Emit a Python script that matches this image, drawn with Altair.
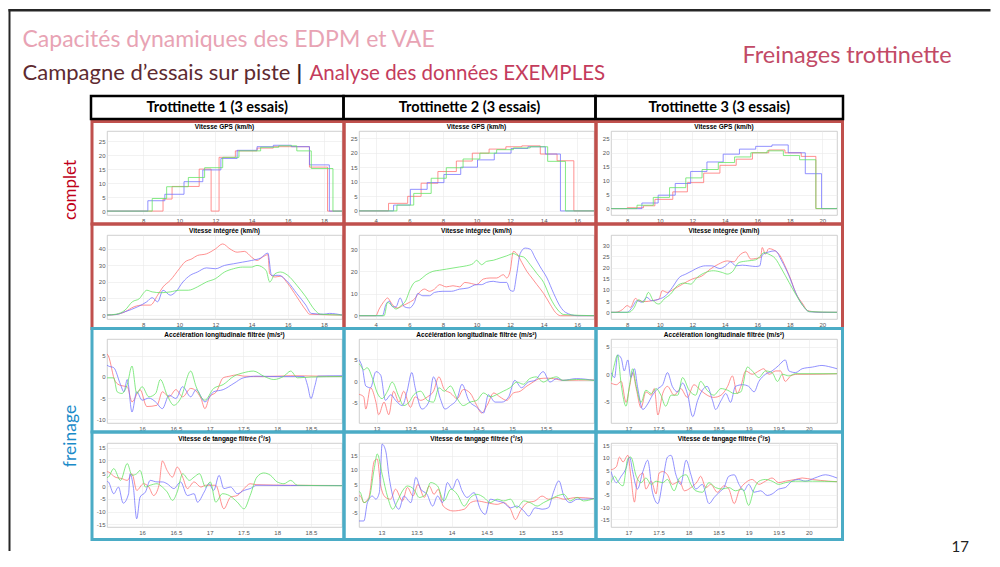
import altair as alt
import pandas as pd

# ------------------------------------------------------------------ data
ESSAIS = ["Essai 1", "Essai 2", "Essai 3"]
COULEURS = ["#ff6e6e", "#7070ff", "#5fe35f"]

# Trottinette 1
GPS1_R = [(6,0),(9.1,4.3),(9.6,8.8),(11.1,15.0),(11.76,0),(12.2,19.2),(13.1,21.5),(14.3,22.5),(15.2,23.0),(16.1,23.0),(17.2,15.7),(18.2,0),(19,0)]
GPS1_B = [(6,0),(8.26,3.7),(9.2,6.0),(10.26,10.5),(11.3,14.7),(12.3,18.8),(13.2,21.7),(14.3,23.0),(15.2,23.5),(16.2,23.0),(17.2,16.5),(18.3,0),(19,0)]
GPS1_G = [(6,0),(8.5,4.5),(9.3,8.7),(10.5,12.0),(11.4,15.5),(12.4,19.2),(13.3,21.5),(14.5,22.8),(15.5,23.3),(16.5,21.5),(17.3,15.2),(18.5,0),(19,0)]

INT1_R = [(6,0),(6.5,0.3),(7,2),(7.5,5),(8.0,6),(8.4,6),(8.8,12),(9.1,17),(9.5,21),(10,28),(10.3,32),(10.7,34),(11,36),(11.5,37),(12,40),(12.4,43),(12.8,40),(13.2,38),(13.6,38.5),(14,35),(14.3,33),(14.6,35),(14.9,36.5),(15.0,25),(15.3,23),(15.6,23.5),(16,19),(16.5,11),(17,3),(17.2,0.5),(19,0)]
INT1_B = [(6,0),(6.5,0.3),(7,2),(7.7,5),(8.2,8),(8.5,10.5),(8.8,8),(9.1,15),(9.5,12),(9.8,14),(10.2,20),(10.6,24),(11,26),(11.5,28.5),(12,28),(12.5,30),(13,31),(13.5,32),(14,33),(14.5,34.5),(14.9,37.5),(15.1,24),(15.5,24),(16,20),(16.5,13),(17,6),(17.3,1),(18,0.5),(18.3,1),(19,0)]
INT1_G = [(6,0),(6.5,0.5),(7,3),(7.4,8),(7.8,10),(8.0,13),(8.2,15),(8.5,14),(9,13.5),(9.5,14),(10,15),(10.5,15),(11,17),(11.5,20),(12,22),(12.5,26),(13,28),(13.5,29),(14,29),(14.3,30),(14.8,27),(15.0,20),(15.3,25),(15.6,26),(16,24),(16.5,18),(17,11),(17.5,3),(17.8,0.5),(19,0)]

ACC1_R = [(15.48,5.5),(15.5,5),(15.6,-1),(15.68,-2),(15.78,-2.3),(15.85,-5.9),(15.97,-3),(16.07,-7),(16.22,-6.7),(16.3,-3.5),(16.4,-4.7),(16.5,-3),(16.6,-4.7),(16.72,-2.7),(16.87,-5),(16.93,-7.5),(17.0,-4.7),(17.1,-3.5),(17.2,-0.2),(17.3,0.2),(17.4,0.5),(17.5,0.2),(17.8,0.1),(18.2,0.3),(18.6,0.2),(18.96,0.1)]
ACC1_B = [(15.48,2.8),(15.5,2.6),(15.58,2.2),(15.68,-1.8),(15.73,-3.5),(15.78,-0.6),(15.85,-8.3),(15.92,-3.5),(16.0,-5.5),(16.1,-5),(16.2,-5.9),(16.3,-7.5),(16.4,-4.3),(16.5,-5.1),(16.6,-2.3),(16.72,-4.7),(16.8,-3),(16.93,-5.9),(17.06,-3.5),(17.2,-3),(17.36,-1.5),(17.5,-0.2),(17.7,0.2),(18.0,0.1),(18.4,0.1),(18.45,-2),(18.5,-5.1),(18.56,-2),(18.6,0.2),(18.96,0.3)]
ACC1_G = [(15.48,-0.2),(15.58,-0.2),(15.63,-3.5),(15.7,-3.9),(15.78,-1.8),(15.85,2.6),(15.92,-3.9),(16.0,-2.3),(16.1,-4.7),(16.2,-3.9),(16.27,-0.6),(16.37,-4.3),(16.47,-6.7),(16.57,-5.1),(16.72,1.4),(16.8,-2.3),(16.93,-5.5),(17.06,-2.7),(17.2,-1.8),(17.36,0.2),(17.5,1.0),(17.65,1.4),(17.8,0.2),(17.95,-0.6),(18.1,0.2),(18.2,1.4),(18.3,-0.2),(18.5,0),(18.96,0.1)]

PIT1_R = [(15.48,5.6),(15.5,5.5),(15.6,3.5),(15.7,2.9),(15.78,2.2),(15.85,4.8),(15.92,-1.7),(16.02,0.9),(16.1,-0.4),(16.17,-3.7),(16.25,0.3),(16.3,9.8),(16.37,6.1),(16.45,3.5),(16.52,7.4),(16.6,3.5),(16.67,-1.0),(16.77,1.6),(16.87,-0.4),(16.94,0.3),(17.09,0.3),(17.21,-8.9),(17.31,-4.3),(17.41,-3.7),(17.51,-1.0),(17.6,0.9),(17.7,0.5),(18.2,0.3),(18.96,0.2)]
PIT1_B = [(15.48,1.8),(15.5,1.6),(15.58,-3),(15.65,-0.4),(15.72,-6.7),(15.8,-3),(15.82,4.8),(15.87,-0.4),(15.92,-12.8),(15.97,-4.3),(16.05,-2.3),(16.12,2.2),(16.22,1.6),(16.3,1.6),(16.37,0.9),(16.47,-1.0),(16.57,1.6),(16.67,-3.7),(16.77,-3.0),(16.82,-6.3),(16.92,-2.3),(16.99,0.9),(17.06,-1.7),(17.14,4.2),(17.21,-1.0),(17.31,-0.4),(17.41,-3.0),(17.51,-1.7),(17.6,-1.0),(17.7,0.3),(18.2,0.2),(18.96,0.2)]
PIT1_G = [(15.48,3.3),(15.5,3.5),(15.58,6.8),(15.68,2.2),(15.78,8.8),(15.85,4.2),(15.92,4.8),(15.97,6.1),(16.05,-0.4),(16.12,0.3),(16.22,0.9),(16.3,-0.4),(16.37,-2.3),(16.45,-5.6),(16.52,-2.3),(16.6,4.8),(16.7,2.2),(16.77,3.5),(16.85,4.8),(16.94,-0.4),(17.01,1.6),(17.09,-6.3),(17.19,-3.0),(17.29,-3.7),(17.41,-6.3),(17.51,-8.9),(17.6,-3.7),(17.7,3.5),(17.8,5.1),(17.9,4.2),(18.0,1.6),(18.1,0.9),(18.2,2.2),(18.3,0.3),(18.96,0.1)]

# Trottinette 2
GPS2_R = [(3,0),(4.76,2.6),(5.9,5.0),(6.7,9.5),(7.7,13.5),(8.8,17.1),(9.75,19.8),(10.75,21.2),(11.75,22.0),(12.7,22.3),(13.8,19.5),(14.8,17.2),(15.8,0),(17,0)]
GPS2_B = [(3,0),(5.06,2.0),(6.06,7.4),(7.06,9.7),(8.06,12.5),(9.06,15.0),(10.06,17.5),(11.06,19.8),(12.06,21.4),(13.06,22.0),(14.1,19.5),(15.0,0),(17,0)]
GPS2_G = [(3,0),(5.26,2.0),(6.26,6.0),(7.3,11.2),(8.2,14.8),(9.2,17.8),(10.2,19.8),(11.2,21.0),(12.2,21.6),(13.2,22.0),(14.24,17.0),(15.3,0),(17,0)]

INT2_R = [(3,0),(4.0,0),(4.2,3),(4.5,6.5),(4.7,8),(4.9,6),(5.1,4),(5.3,3.5),(5.6,4.5),(6,6),(6.3,7.5),(6.6,10.5),(6.9,12),(7.2,11),(7.5,12),(7.8,14),(8.2,13),(8.6,13.5),(9,13),(9.3,15),(9.7,14.5),(10,14),(10.4,16.5),(10.8,17),(11.2,17),(11.6,18.5),(11.8,17),(12.0,20),(12.2,29),(12.4,28),(12.7,24),(13,20),(13.3,17),(13.6,14),(14,10),(14.4,5),(14.7,1.5),(15,0),(17,0)]
INT2_B = [(3,0),(4.4,0),(4.6,5),(4.8,6.5),(5.0,4),(5.2,4),(5.45,8),(5.7,4),(6.0,3.5),(6.3,6),(6.5,10),(6.8,9),(7.2,9),(7.5,10.5),(8,11),(8.5,11),(9,12),(9.5,12.5),(10,14),(10.3,14),(10.6,15),(11,15.5),(11.4,15),(11.8,15),(12.0,11.5),(12.2,11),(12.4,19),(12.6,28),(12.9,30.5),(13.2,30),(13.5,26),(13.8,22),(14.2,17),(14.6,10),(15,4),(15.3,1.5),(16,0),(17,0)]
INT2_G = [(3,0),(4.5,0),(4.7,6),(4.9,5),(5.2,3),(5.5,4.5),(5.8,7),(6.0,11),(6.3,15),(6.6,16),(7,18.5),(7.4,20),(7.8,20.5),(8.2,21),(8.6,21.5),(9,22),(9.4,22.5),(9.8,23.5),(10,25),(10.3,23),(10.6,24.5),(11,25),(11.4,26),(11.8,27),(12.2,28),(12.5,27),(12.8,26.5),(13.2,23),(13.6,19),(14,15),(14.4,8),(14.8,3),(15.2,0.5),(17,0)]

ACC2_R = [(12.74,-3.0),(12.76,-3.1),(12.81,-3.6),(12.84,-6.4),(12.91,-1.5),(12.99,-4.8),(13.03,-7.7),(13.11,-4.8),(13.18,-7.7),(13.25,-2.3),(13.33,-4.8),(13.4,-2.3),(13.5,-6.0),(13.57,-3.6),(13.65,-4.4),(13.75,-3.6),(13.84,-2.3),(13.92,1.0),(14.0,-1.9),(14.09,-2.7),(14.19,-4.0),(14.28,-1.9),(14.38,-2.7),(14.48,-5.6),(14.55,-7.3),(14.63,-5.6),(14.73,-2.7),(14.82,-3.6),(14.92,-4.4),(15.02,-2.7),(15.12,-2.3),(15.22,-1.1),(15.31,-0.2),(15.41,0.6),(15.51,0.7),(15.61,0.6),(15.75,0.2),(16.21,0.3)]
ACC2_B = [(12.74,5.0),(12.75,4.7),(12.79,3.1),(12.84,-1.1),(12.91,-1.5),(12.99,2.2),(13.06,1.4),(13.13,-4.4),(13.21,-3.1),(13.28,-4.4),(13.38,-5.6),(13.45,-2.3),(13.52,2.0),(13.57,-1.5),(13.67,-6.4),(13.77,-4.8),(13.84,1.0),(13.94,-4.0),(14.01,-6.4),(14.09,-5.6),(14.19,-4.0),(14.26,-0.7),(14.36,-4.4),(14.48,-6.0),(14.58,-7.3),(14.65,-3.1),(14.75,-4.8),(14.85,-4.8),(14.95,-3.6),(15.04,0.2),(15.14,-1.5),(15.24,-0.2),(15.34,0.2),(15.46,2.2),(15.56,-0.2),(15.66,0.6),(15.75,0.2),(15.95,0.6),(16.21,0.2)]
ACC2_G = [(12.74,4.0),(12.75,3.9),(12.81,2.6),(12.86,3.1),(12.94,0.6),(13.01,-2.7),(13.08,-4.0),(13.16,-2.3),(13.23,-0.2),(13.33,-3.6),(13.4,-5.6),(13.48,-4.8),(13.55,-3.1),(13.65,-2.3),(13.75,-4.4),(13.84,-4.8),(13.92,-1.5),(14.0,-2.3),(14.09,-1.1),(14.19,-4.0),(14.28,-5.6),(14.38,-4.8),(14.48,-4.4),(14.58,-2.7),(14.68,-3.6),(14.77,-3.1),(14.87,-2.3),(14.97,-1.5),(15.07,-0.2),(15.17,-0.7),(15.26,0.6),(15.36,1.0),(15.46,-0.2),(15.56,0.6),(15.66,1.0),(15.75,0.2),(15.95,0.4),(16.21,0.2)]

PIT2_R = [(12.68,1.0),(12.7,0.9),(12.75,-1.4),(12.82,0.4),(12.9,13.2),(12.94,13.8),(12.99,4.4),(13.06,0.4),(13.13,-0.2),(13.2,3.3),(13.3,-0.8),(13.37,3.9),(13.45,0.9),(13.52,5.0),(13.61,0.4),(13.68,4.4),(13.75,1.5),(13.81,3.3),(13.88,-2.6),(14.02,-4.3),(14.18,-3.7),(14.27,-1.4),(14.36,-0.8),(14.5,-1.4),(14.65,-2.0),(14.74,-1.4),(14.84,-3.7),(14.91,-7.3),(14.98,-4.3),(15.08,-1.4),(15.19,-0.8),(15.29,0.9),(15.38,-0.2),(15.5,0.4),(15.6,-0.2),(15.79,0.4),(16.03,0)]
PIT2_B = [(12.68,-7.8),(12.75,-7.8),(12.8,-1.4),(12.87,0.9),(12.92,-0.2),(12.97,2.1),(13.01,19.0),(13.06,16.7),(13.11,7.4),(13.18,-0.8),(13.25,-3.7),(13.32,0.9),(13.42,-1.4),(13.49,7.4),(13.56,3.3),(13.65,1.5),(13.73,-2.6),(13.8,0.9),(13.87,-1.4),(13.94,5.6),(14.01,3.3),(14.08,6.8),(14.15,2.7),(14.22,0.4),(14.32,2.1),(14.41,-3.7),(14.48,-5.5),(14.55,-0.2),(14.65,-0.8),(14.74,-1.4),(14.84,-3.2),(14.93,-2.6),(15.03,-4.3),(15.1,-6.1),(15.19,-3.2),(15.29,-3.7),(15.38,-3.2),(15.45,2.1),(15.53,6.2),(15.6,0.9),(15.69,-1.4),(15.79,-0.2),(15.88,-0.2),(16.03,0)]
PIT2_G = [(12.68,2.5),(12.7,2.1),(12.75,-1.4),(12.82,-0.2),(12.9,10.9),(12.94,15.6),(13.01,8.5),(13.09,0.4),(13.16,-3.7),(13.23,-0.8),(13.3,2.7),(13.37,4.4),(13.46,3.3),(13.54,0.4),(13.63,1.5),(13.7,5.6),(13.8,4.4),(13.89,-0.8),(13.99,3.3),(14.08,1.5),(14.18,-2.6),(14.27,0.4),(14.36,1.5),(14.46,0.4),(14.55,-1.4),(14.65,-0.2),(14.74,-0.8),(14.84,-0.2),(14.93,-3.2),(15.03,-0.8),(15.12,-1.4),(15.22,-2.6),(15.31,-1.4),(15.41,-0.2),(15.5,0.9),(15.6,1.5),(15.69,-0.8),(15.79,0.4),(15.88,-0.8),(16.03,0)]

# Trottinette 3
GPS3_R = [(7,0),(8.0,0.3),(9.0,1.0),(9.7,3.3),(10.8,6.0),(11.7,9.3),(12.7,12.7),(13.7,15.5),(14.7,17.7),(15.7,20.0),(16.7,21.0),(17.7,20.0),(18.7,18.7),(19.6,0),(20.9,0)]
GPS3_B = [(7,0),(8.9,2.0),(9.9,4.8),(10.95,9.0),(11.9,13.3),(12.9,16.7),(13.9,19.5),(14.9,21.3),(15.9,22.3),(16.9,22.8),(17.9,20.0),(18.95,12.5),(19.95,0),(20.9,0)]
GPS3_G = [(7,0),(8.6,1.2),(9.6,4.0),(10.6,7.5),(11.6,11.0),(12.6,14.0),(13.6,16.5),(14.6,18.5),(15.6,20.0),(16.6,20.7),(17.6,19.0),(18.6,17.5),(19.6,0),(20.9,0.3)]

INT3_R = [(7,0),(7.28,0),(7.7,1.2),(8.0,3.0),(8.2,2.2),(8.5,6.2),(8.7,5.2),(9.1,4.8),(9.5,5.2),(9.95,5.9),(10.15,9.7),(10.46,8.9),(10.87,10.4),(11.4,12.6),(12.0,14.9),(12.6,16.3),(13.1,19.3),(13.6,21.5),(14.15,23.0),(14.56,22.6),(14.87,25.3),(15.28,27.0),(15.6,23.8),(15.9,24.1),(16.2,24.5),(16.3,29.0),(16.5,26.0),(16.7,28.5),(17.1,27.5),(17.4,25.3),(17.7,20.8),(18.05,14.9),(18.35,8.9),(18.8,3.7),(19.1,0.7),(20,0),(20.9,0)]
INT3_B = [(7,0),(8,0),(8.3,2.2),(8.6,5.2),(8.9,4.5),(9.2,6.7),(9.5,5.2),(9.95,5.9),(10.36,7.4),(10.77,11.1),(11.2,15.6),(11.6,17.1),(12.0,18.6),(12.4,20.1),(12.8,20.8),(13.2,20.8),(13.7,19.6),(14.05,20.8),(14.36,22.6),(14.67,20.8),(15.08,21.1),(15.5,20.8),(15.9,20.5),(16.15,20.8),(16.3,25.6),(16.7,27.0),(17.1,27.5),(17.5,23.0),(17.95,16.3),(18.35,8.9),(18.8,3.0),(19.2,0.3),(20,0),(20.9,0)]
INT3_G = [(7,0),(8.1,0),(8.4,1.8),(8.7,5.6),(9.0,4.5),(9.3,8.9),(9.6,5.2),(9.95,3.7),(10.26,5.9),(10.67,8.2),(11.08,11.9),(11.5,13.1),(11.9,12.6),(12.3,15.6),(12.8,17.8),(13.3,18.6),(13.85,17.8),(14.15,17.1),(14.46,18.1),(14.87,22.3),(15.4,23.0),(15.9,23.5),(16.2,25.3),(16.4,26.7),(16.7,26.0),(17.1,24.1),(17.5,19.3),(17.95,13.4),(18.35,8.2),(18.8,3.0),(19.2,0.3),(20.9,0)]

ACC3_R = [(16.71,-1.6),(16.8,-1.9),(16.88,-1.3),(16.96,-5.1),(17.02,-2.2),(17.07,0.3),(17.13,-2.6),(17.21,-6.1),(17.29,-3.2),(17.38,-3.8),(17.43,-2.6),(17.49,-7.4),(17.57,-3.5),(17.65,-2.2),(17.76,-3.8),(17.87,-2.6),(17.98,-4.2),(18.09,-1.9),(18.2,-2.9),(18.31,-3.8),(18.42,-4.2),(18.54,-3.8),(18.65,-2.2),(18.73,-0.3),(18.81,-3.5),(18.87,-2.2),(18.95,0.6),(19.06,0),(19.17,0.6),(19.25,1.0),(19.34,0),(19.45,0.6),(19.53,0.6),(19.61,-1.3),(19.7,-0.3),(19.81,0),(20.0,0),(20.47,0.1)]
ACC3_B = [(16.71,0.3),(16.77,-0.6),(16.82,3.5),(16.88,2.9),(16.93,0.6),(16.99,2.6),(17.04,-0.6),(17.1,1.0),(17.15,-2.2),(17.24,-6.4),(17.32,-5.4),(17.4,-3.8),(17.49,-2.6),(17.57,-1.9),(17.65,0.3),(17.73,-2.2),(17.82,-3.2),(17.9,-1.6),(17.98,-3.5),(18.07,-7.7),(18.15,-4.8),(18.23,-2.9),(18.31,-2.2),(18.4,-4.8),(18.45,-6.4),(18.54,-4.8),(18.62,-3.5),(18.7,-5.1),(18.78,-2.2),(18.9,-1.9),(19.0,-2.2),(19.09,-3.2),(19.17,-1.3),(19.28,0),(19.39,0.6),(19.5,1.6),(19.61,2.6),(19.67,0.6),(19.78,0.3),(19.89,1.0),(20.06,1.3),(20.22,1.6),(20.33,1.4),(20.47,1.0)]
ACC3_G = [(16.71,-1.3),(16.77,1.9),(16.82,3.5),(16.88,-1.9),(16.96,-5.8),(17.02,-1.9),(17.07,1.0),(17.13,-2.2),(17.21,-5.1),(17.29,-2.9),(17.38,-3.5),(17.46,-2.6),(17.54,-3.8),(17.62,-5.8),(17.71,-3.8),(17.82,-3.8),(17.9,-0.6),(18.01,-2.9),(18.12,-3.8),(18.2,-1.3),(18.31,-2.9),(18.42,-3.8),(18.54,-2.6),(18.65,-2.9),(18.76,-3.5),(18.87,-3.2),(18.98,1.3),(19.06,0.6),(19.17,-0.6),(19.28,0.6),(19.39,0.3),(19.48,-1.3),(19.56,0),(19.67,-0.3),(19.78,0.1),(20.47,0.1)]

PIT3_R = [(16.71,5.1),(16.8,6.4),(16.85,10.3),(16.91,8.3),(16.99,11.0),(17.04,2.5),(17.1,-8.0),(17.15,1.2),(17.24,3.8),(17.29,-2.7),(17.38,0.5),(17.46,-4.7),(17.51,3.8),(17.57,4.4),(17.65,3.1),(17.73,-0.8),(17.85,0.5),(17.93,-3.4),(18.04,-2.1),(18.15,0.5),(18.2,2.5),(18.29,-2.1),(18.37,-0.8),(18.48,-4.0),(18.59,-1.4),(18.67,-2.7),(18.76,-8.6),(18.84,-3.4),(18.95,-0.1),(19.06,1.2),(19.17,-0.8),(19.28,0.5),(19.39,1.8),(19.5,-0.1),(19.61,0.5),(19.78,1.2),(19.89,1.8),(20.06,1.2),(20.33,0.5),(20.47,0.3)]
PIT3_B = [(16.71,4.4),(16.8,-0.1),(16.88,2.5),(16.96,5.7),(17.02,10.3),(17.07,4.4),(17.15,-2.7),(17.24,4.4),(17.32,9.0),(17.4,-4.0),(17.49,-8.6),(17.57,0.5),(17.65,10.3),(17.71,11.0),(17.79,3.1),(17.87,-0.8),(17.96,9.0),(18.04,3.1),(18.12,-2.7),(18.23,-0.8),(18.34,-8.6),(18.43,-6.0),(18.51,-4.0),(18.59,-2.1),(18.67,2.5),(18.76,3.1),(18.84,-0.8),(18.92,-3.4),(19.0,-0.8),(19.09,-4.0),(19.2,-3.4),(19.31,-5.3),(19.39,-4.7),(19.5,-2.7),(19.61,-2.1),(19.72,0.5),(19.83,1.2),(19.94,0.5),(20.1,1.8),(20.28,3.1),(20.39,2.5),(20.47,1.8)]
PIT3_G = [(16.71,-0.1),(16.77,2.5),(16.82,0.5),(16.91,-1.4),(16.99,9.6),(17.04,10.3),(17.13,2.5),(17.21,-0.1),(17.29,1.8),(17.38,-0.8),(17.46,0.5),(17.57,-0.1),(17.65,1.2),(17.76,-3.4),(17.85,1.8),(17.96,3.1),(18.04,-0.8),(18.12,-3.4),(18.23,-4.0),(18.34,-0.1),(18.45,-2.1),(18.56,-2.7),(18.67,-2.1),(18.78,-3.4),(18.9,-2.7),(19.0,-9.3),(19.09,-2.7),(19.17,0.5),(19.28,1.2),(19.39,0.5),(19.5,-0.8),(19.61,-0.1),(19.78,0.5),(20.06,0.5),(20.47,0.3)]

# panel titles / axis ticks
T_GPS = "Vitesse GPS (km/h)"
T_INT = "Vitesse intégrée (km/h)"
T_ACC = "Accélération longitudinale filtrée (m/s²)"
T_PIT = "Vitesse de tangage filtrée (°/s)"
HEADERS = ["Trottinette 1 (3 essais)", "Trottinette 2 (3 essais)", "Trottinette 3 (3 essais)"]

PANELS = [
    # row 1
    dict(t=T_GPS, s=(GPS1_R, GPS1_B, GPS1_G), xd=(6, 19), yd=(-1.4, 28.6), xt=[8, 10, 12, 14, 16, 18], yt=[0, 5, 10, 15, 20, 25], step=True),
    dict(t=T_GPS, s=(GPS2_R, GPS2_B, GPS2_G), xd=(3, 17), yd=(-1.4, 27.4), xt=[4, 6, 8, 10, 12, 14, 16], yt=[0, 5, 10, 15, 20, 25], step=True),
    dict(t=T_GPS, s=(GPS3_R, GPS3_B, GPS3_G), xd=(7, 20.9), yd=(-2.3, 27.8), xt=[8, 10, 12, 14, 16, 18, 20], yt=[0, 5, 10, 15, 20, 25], step=True),
    # row 2
    dict(t=T_INT, s=(INT1_R, INT1_B, INT1_G), xd=(6, 19), yd=(-2.4, 48.4), xt=[8, 10, 12, 14, 16, 18], yt=[0, 10, 20, 30, 40], step=False),
    dict(t=T_INT, s=(INT2_R, INT2_B, INT2_G), xd=(3, 17), yd=(-1.5, 36.4), xt=[4, 6, 8, 10, 12, 14, 16], yt=[0, 10, 20, 30], step=False),
    dict(t=T_INT, s=(INT3_R, INT3_B, INT3_G), xd=(7, 20.9), yd=(-3, 34.6), xt=[8, 10, 12, 14, 16, 18, 20], yt=[0, 5, 10, 15, 20, 25, 30], step=False),
    # row 3
    dict(t=T_ACC, s=(ACC1_R, ACC1_B, ACC1_G), xd=(15.48, 18.96), yd=(-10.9, 9), xt=[16, 16.5, 17, 17.5, 18, 18.5], yt=[-10, -5, 0, 5], step=False),
    dict(t=T_ACC, s=(ACC2_R, ACC2_B, ACC2_G), xd=(12.74, 16.21), yd=(-9.6, 9.7), xt=[13, 13.5, 14, 14.5, 15, 15.5], yt=[-5, 0, 5], step=False),
    dict(t=T_ACC, s=(ACC3_R, ACC3_B, ACC3_G), xd=(16.71, 20.47), yd=(-8.85, 6.4), xt=[17, 17.5, 18, 18.5, 19, 19.5, 20], yt=[-5, 0, 5], step=False),
    # row 4
    dict(t=T_PIT, s=(PIT1_R, PIT1_B, PIT1_G), xd=(15.48, 18.96), yd=(-16, 16.8), xt=[16, 16.5, 17, 17.5, 18, 18.5], yt=[-15, -10, -5, 0, 5, 10, 15], step=False),
    dict(t=T_PIT, s=(PIT2_R, PIT2_B, PIT2_G), xd=(12.68, 16.03), yd=(-9.9, 19.4), xt=[13, 13.5, 14, 14.5, 15, 15.5], yt=[-5, 0, 5, 10, 15], step=False),
    dict(t=T_PIT, s=(PIT3_R, PIT3_B, PIT3_G), xd=(16.71, 20.47), yd=(-18.1, 16.0), xt=[17, 17.5, 18, 18.5, 19, 19.5, 20], yt=[-15, -10, -5, 0, 5, 10, 15], step=False),
]

# ------------------------------------------------------------------ layout (page pixels)
COL_W = [235, 235, 226]
ROW_H = 84
COL_X = [106.5, 358.5, 610.5]          # plot-area left edge of each column
ROW_Y = [130, 234, 338, 442]           # plot-area top edge of each row
FRAME_X = [(91.5, 343.5), (343.5, 595.5), (595.5, 842)]
FRAME_Y = [(120.5, 223), (223, 327.5), (327.5, 431), (431, 538.5)]
HEAD_X = [(90.5, 343), (343, 595), (595, 842.5)]
RED = "#c0504d"
BLUE = "#4bacc6"
ONE = alt.Data(values=[{"k": 0}])


def rect(x1, y1, x2, y2, **kw):
    return alt.Chart(ONE).mark_rect(**kw).encode(
        x=alt.value(x1), x2=alt.value(x2), y=alt.value(y1), y2=alt.value(y2))


def text(x, y, s, **kw):
    return alt.Chart(ONE).mark_text(text=s, **kw).encode(x=alt.value(x), y=alt.value(y))


def panel(i):
    p = PANELS[i]
    row, col = divmod(i, 3)
    ox, oy = COL_X[col], ROW_Y[row]
    rows = []
    for name, serie in zip(ESSAIS, p["s"]):
        for k, (t, v) in enumerate(serie):
            rows.append({"t": t, "v": v, "essai": name, "k": k})
    df = pd.DataFrame(rows)
    line = alt.Chart(df).mark_line(
        clip=True, strokeWidth=0.9, opacity=0.85,
        interpolate="step-after" if p["step"] else "monotone",
    ).encode(
        x=alt.X("t:Q", scale=alt.Scale(domain=list(p["xd"]), nice=False, zero=False),
                axis=alt.Axis(values=p["xt"], title=None, labelExpr="toString(datum.value)")),
        y=alt.Y("v:Q", scale=alt.Scale(domain=list(p["yd"]), nice=False, zero=False),
                axis=alt.Axis(values=p["yt"], title=None, labelExpr="toString(datum.value)")),
        color=alt.Color("essai:N", scale=alt.Scale(domain=ESSAIS, range=COULEURS), legend=None),
        order="k:Q",
    )
    layers = [line]
    # panel title
    layers.append(text(COL_W[col] / 2, -4.5, p["t"], font="Liberation Sans", fontSize=6.5,
                       fontWeight="bold", align="center", baseline="middle", color="black"))
    fx1, fx2 = FRAME_X[col]
    fy1, fy2 = FRAME_Y[row]
    layers.append(rect(fx1 - ox, fy1 - oy, fx2 - ox, fy2 - oy, fillOpacity=0,
                       stroke=RED if row < 2 else BLUE, strokeWidth=3))
    if row == 0:
        hx1, hx2 = HEAD_X[col]
        layers.append(rect(hx1 - ox, 95 - oy, hx2 - ox, 118 - oy, fillOpacity=0,
                           stroke="black", strokeWidth=2.5))
        layers.append(text((hx1 + hx2) / 2 - ox, 106.5 - oy, HEADERS[col], font="Lato",
                           fontSize=14.5, fontWeight="bold", align="center",
                           baseline="middle", color="black"))
    if i == 0:
        # slide frame + slide titles
        layers.append(rect(8 - ox, 8 - oy, 990 - ox, 10.5 - oy, color="#262626"))
        layers.append(rect(8 - ox, 8 - oy, 10 - ox, 550 - oy, color="#262626"))
        layers.append(text(22 - ox, 46 - oy, "Capacités dynamiques des EDPM et VAE", font="Lato",
                           fontSize=23, align="left", baseline="alphabetic", color="#e8a3b4"))
        layers.append(text(22 - ox, 79 - oy, "Campagne d’essais sur piste", font="Lato",
                           fontSize=22, align="left", baseline="alphabetic", color="#5e2a30"))
        layers.append(text(296 - ox, 79 - oy, "|", font="Lato", fontSize=21.5, fontWeight="bold",
                           align="left", baseline="alphabetic", color="#3a1c20"))
        layers.append(text(309 - ox, 79 - oy, "Analyse des données EXEMPLES", font="Lato",
                           fontSize=20.5, align="left", baseline="alphabetic", color="#c43c5c"))
        layers.append(text(742 - ox, 62 - oy, "Freinages trottinette", font="Lato",
                           fontSize=23.5, align="left", baseline="alphabetic", color="#c24a66"))
        layers.append(text(951 - ox, 551 - oy, "17", font="Lato", fontSize=15,
                           align="left", baseline="alphabetic", color="#222222"))
        layers.append(text(70 - ox, 189 - oy, "complet", font="Lato", fontSize=17, angle=270,
                           align="center", baseline="middle", color="#c0001a"))
    if i == 6:
        layers.append(text(70 - ox, 435 - oy, "freinage", font="Lato", fontSize=17.5, angle=270,
                           align="center", baseline="middle", color="#1a8bc9"))
    return alt.layer(*layers).properties(width=COL_W[col], height=ROW_H)


chart = alt.concat(
    *[panel(i) for i in range(12)],
    columns=3,
    spacing={"row": 20, "column": 17},
    bounds="flush",
).properties(
    padding=0,
).configure(
    background="white",
).configure_view(
    stroke="#c4c4c4", strokeWidth=0.8,
).configure_axis(
    labelFontSize=6, labelColor="#555555", labelFont="Liberation Sans",
    grid=True, gridColor="#e9e9e9", gridWidth=0.6,
    domain=False, ticks=False, labelPadding=2,
)

chart.save("out.html", embed_options={"renderer": "svg", "actions": False})
